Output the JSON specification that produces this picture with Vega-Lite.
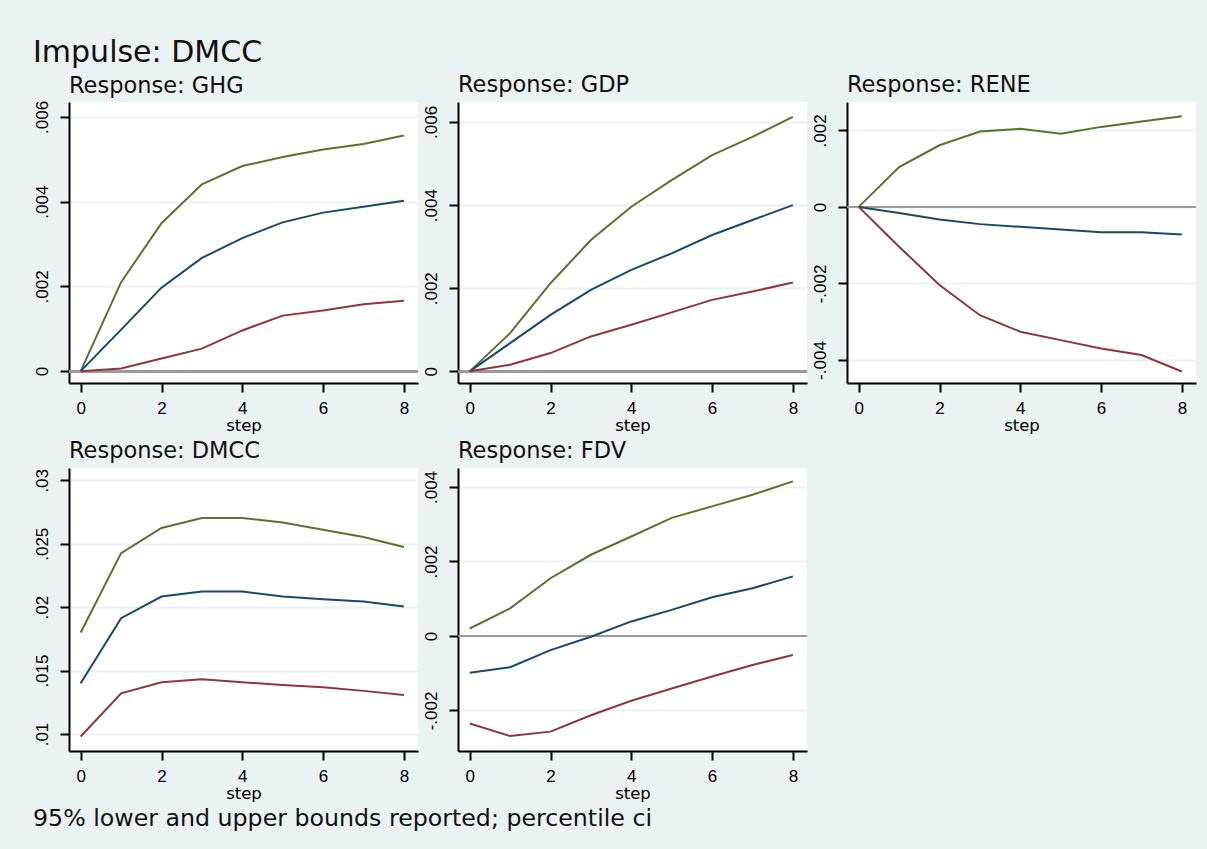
{
  "$schema": "https://vega.github.io/schema/vega-lite/v6.json",
  "background": "#EAF2F3",
  "padding": {"left": 33, "top": 37, "right": 11, "bottom": 22},
  "title": {"text": "95% lower and upper bounds reported; percentile ci", "orient": "bottom", "anchor": "start", "fontSize": 23.7, "offset": 5, "frame": "bounds"},
  "datasets": {
    "irf": [
      {"r":"GHG","k":"upper","s":0,"v":0},{"r":"GHG","k":"upper","s":1,"v":0.0021},{"r":"GHG","k":"upper","s":2,"v":0.00349},{"r":"GHG","k":"upper","s":3,"v":0.00441},{"r":"GHG","k":"upper","s":4,"v":0.00484},{"r":"GHG","k":"upper","s":5,"v":0.00505},{"r":"GHG","k":"upper","s":6,"v":0.00523},{"r":"GHG","k":"upper","s":7,"v":0.00536},{"r":"GHG","k":"upper","s":8,"v":0.00556},
      {"r":"GHG","k":"irf","s":0,"v":0},{"r":"GHG","k":"irf","s":1,"v":0.00098},{"r":"GHG","k":"irf","s":2,"v":0.00197},{"r":"GHG","k":"irf","s":3,"v":0.00267},{"r":"GHG","k":"irf","s":4,"v":0.00314},{"r":"GHG","k":"irf","s":5,"v":0.00351},{"r":"GHG","k":"irf","s":6,"v":0.00374},{"r":"GHG","k":"irf","s":7,"v":0.00388},{"r":"GHG","k":"irf","s":8,"v":0.00402},
      {"r":"GHG","k":"lower","s":0,"v":0},{"r":"GHG","k":"lower","s":1,"v":0.00006},{"r":"GHG","k":"lower","s":2,"v":0.0003},{"r":"GHG","k":"lower","s":3,"v":0.00053},{"r":"GHG","k":"lower","s":4,"v":0.00096},{"r":"GHG","k":"lower","s":5,"v":0.00131},{"r":"GHG","k":"lower","s":6,"v":0.00143},{"r":"GHG","k":"lower","s":7,"v":0.00158},{"r":"GHG","k":"lower","s":8,"v":0.00166},
      {"r":"GDP","k":"upper","s":0,"v":0},{"r":"GDP","k":"upper","s":1,"v":0.00092},{"r":"GDP","k":"upper","s":2,"v":0.00212},{"r":"GDP","k":"upper","s":3,"v":0.00316},{"r":"GDP","k":"upper","s":4,"v":0.00396},{"r":"GDP","k":"upper","s":5,"v":0.0046},{"r":"GDP","k":"upper","s":6,"v":0.0052},{"r":"GDP","k":"upper","s":7,"v":0.00564},{"r":"GDP","k":"upper","s":8,"v":0.00612},
      {"r":"GDP","k":"irf","s":0,"v":0},{"r":"GDP","k":"irf","s":1,"v":0.00068},{"r":"GDP","k":"irf","s":2,"v":0.00136},{"r":"GDP","k":"irf","s":3,"v":0.00196},{"r":"GDP","k":"irf","s":4,"v":0.00244},{"r":"GDP","k":"irf","s":5,"v":0.00284},{"r":"GDP","k":"irf","s":6,"v":0.00328},{"r":"GDP","k":"irf","s":7,"v":0.00364},{"r":"GDP","k":"irf","s":8,"v":0.004},
      {"r":"GDP","k":"lower","s":0,"v":0},{"r":"GDP","k":"lower","s":1,"v":0.00016},{"r":"GDP","k":"lower","s":2,"v":0.00044},{"r":"GDP","k":"lower","s":3,"v":0.00084},{"r":"GDP","k":"lower","s":4,"v":0.00112},{"r":"GDP","k":"lower","s":5,"v":0.00142},{"r":"GDP","k":"lower","s":6,"v":0.00172},{"r":"GDP","k":"lower","s":7,"v":0.00192},{"r":"GDP","k":"lower","s":8,"v":0.00214},
      {"r":"RENE","k":"upper","s":0,"v":0},{"r":"RENE","k":"upper","s":1,"v":0.00104},{"r":"RENE","k":"upper","s":2,"v":0.00161},{"r":"RENE","k":"upper","s":3,"v":0.00197},{"r":"RENE","k":"upper","s":4,"v":0.00204},{"r":"RENE","k":"upper","s":5,"v":0.00191},{"r":"RENE","k":"upper","s":6,"v":0.00209},{"r":"RENE","k":"upper","s":7,"v":0.00223},{"r":"RENE","k":"upper","s":8,"v":0.00237},
      {"r":"RENE","k":"irf","s":0,"v":0},{"r":"RENE","k":"irf","s":1,"v":-0.00016},{"r":"RENE","k":"irf","s":2,"v":-0.00033},{"r":"RENE","k":"irf","s":3,"v":-0.00045},{"r":"RENE","k":"irf","s":4,"v":-0.00052},{"r":"RENE","k":"irf","s":5,"v":-0.00059},{"r":"RENE","k":"irf","s":6,"v":-0.00066},{"r":"RENE","k":"irf","s":7,"v":-0.00066},{"r":"RENE","k":"irf","s":8,"v":-0.00072},
      {"r":"RENE","k":"lower","s":0,"v":0},{"r":"RENE","k":"lower","s":1,"v":-0.00104},{"r":"RENE","k":"lower","s":2,"v":-0.00204},{"r":"RENE","k":"lower","s":3,"v":-0.00283},{"r":"RENE","k":"lower","s":4,"v":-0.00326},{"r":"RENE","k":"lower","s":5,"v":-0.00348},{"r":"RENE","k":"lower","s":6,"v":-0.0037},{"r":"RENE","k":"lower","s":7,"v":-0.00387},{"r":"RENE","k":"lower","s":8,"v":-0.0043},
      {"r":"DMCC","k":"upper","s":0,"v":0.018},{"r":"DMCC","k":"upper","s":1,"v":0.02426},{"r":"DMCC","k":"upper","s":2,"v":0.02624},{"r":"DMCC","k":"upper","s":3,"v":0.02703},{"r":"DMCC","k":"upper","s":4,"v":0.02703},{"r":"DMCC","k":"upper","s":5,"v":0.02668},{"r":"DMCC","k":"upper","s":6,"v":0.0261},{"r":"DMCC","k":"upper","s":7,"v":0.02553},{"r":"DMCC","k":"upper","s":8,"v":0.02474},
      {"r":"DMCC","k":"irf","s":0,"v":0.014},{"r":"DMCC","k":"irf","s":1,"v":0.01913},{"r":"DMCC","k":"irf","s":2,"v":0.02084},{"r":"DMCC","k":"irf","s":3,"v":0.02124},{"r":"DMCC","k":"irf","s":4,"v":0.02124},{"r":"DMCC","k":"irf","s":5,"v":0.02084},{"r":"DMCC","k":"irf","s":6,"v":0.02063},{"r":"DMCC","k":"irf","s":7,"v":0.02045},{"r":"DMCC","k":"irf","s":8,"v":0.02005},
      {"r":"DMCC","k":"lower","s":0,"v":0.0098},{"r":"DMCC","k":"lower","s":1,"v":0.01321},{"r":"DMCC","k":"lower","s":2,"v":0.01408},{"r":"DMCC","k":"lower","s":3,"v":0.01432},{"r":"DMCC","k":"lower","s":4,"v":0.01408},{"r":"DMCC","k":"lower","s":5,"v":0.01387},{"r":"DMCC","k":"lower","s":6,"v":0.01368},{"r":"DMCC","k":"lower","s":7,"v":0.0134},{"r":"DMCC","k":"lower","s":8,"v":0.01308},
      {"r":"FDV","k":"upper","s":0,"v":0.0002},{"r":"FDV","k":"upper","s":1,"v":0.00074},{"r":"FDV","k":"upper","s":2,"v":0.00155},{"r":"FDV","k":"upper","s":3,"v":0.00218},{"r":"FDV","k":"upper","s":4,"v":0.00267},{"r":"FDV","k":"upper","s":5,"v":0.00317},{"r":"FDV","k":"upper","s":6,"v":0.00348},{"r":"FDV","k":"upper","s":7,"v":0.00379},{"r":"FDV","k":"upper","s":8,"v":0.00415},
      {"r":"FDV","k":"irf","s":0,"v":-0.00099},{"r":"FDV","k":"irf","s":1,"v":-0.00084},{"r":"FDV","k":"irf","s":2,"v":-0.00038},{"r":"FDV","k":"irf","s":3,"v":-0.00002},{"r":"FDV","k":"irf","s":4,"v":0.00039},{"r":"FDV","k":"irf","s":5,"v":0.0007},{"r":"FDV","k":"irf","s":6,"v":0.00104},{"r":"FDV","k":"irf","s":7,"v":0.00128},{"r":"FDV","k":"irf","s":8,"v":0.0016},
      {"r":"FDV","k":"lower","s":0,"v":-0.00235},{"r":"FDV","k":"lower","s":1,"v":-0.00269},{"r":"FDV","k":"lower","s":2,"v":-0.00257},{"r":"FDV","k":"lower","s":3,"v":-0.00213},{"r":"FDV","k":"lower","s":4,"v":-0.00174},{"r":"FDV","k":"lower","s":5,"v":-0.00141},{"r":"FDV","k":"lower","s":6,"v":-0.00109},{"r":"FDV","k":"lower","s":7,"v":-0.00078},{"r":"FDV","k":"lower","s":8,"v":-0.00051}
    ]
  },
  "vconcat": [
    {
      "title": {"text": "Impulse: DMCC", "anchor": "start", "fontSize": 30, "frame": "bounds", "offset": 6},
      "columns": 3,
      "bounds": "flush",
      "spacing": {"row": 85, "column": 40},
      "concat": [
        {
          "title": {"text": "Response: GHG", "offset": 2.3},
          "width": 349, "height": 281,
          "data": {"name": "irf"},
          "transform": [{"filter": "datum.r == 'GHG'"}],
          "layer": [
            {"mark": {"type": "rule", "color": "#9a9a9a", "strokeWidth": 2}, "encoding": {"y": {"datum": 0, "type": "quantitative", "title": null, "axis": {"values": [0, 0.002, 0.004, 0.006], "labelExpr": "replace(replace(format(datum.value, '.3~f'), '0.', '.'), '\u2212', '-')"}}}},
            {"mark": {"type": "line", "strokeWidth": 2},
             "encoding": {
               "x": {"field": "s", "type": "quantitative", "title": "step", "scale": {"domain": [-0.29, 8.35], "nice": false, "zero": false}, "axis": {"values": [0, 2, 4, 6, 8]}},
               "y": {"field": "v", "type": "quantitative", "title": null, "scale": {"domain": [-0.00028, 0.00635], "nice": false, "zero": false}, "axis": {"values": [0, 0.002, 0.004, 0.006], "labelExpr": "replace(replace(format(datum.value, '.3~f'), '0.', '.'), '\u2212', '-')"}},
               "color": {"field": "k", "type": "nominal", "scale": {"domain": ["upper", "irf", "lower"], "range": ["#55752f", "#1a476f", "#90353b"]}, "legend": null}
             }}
          ]
        },
        {
          "title": {"text": "Response: GDP"},
          "width": 349, "height": 281,
          "data": {"name": "irf"},
          "transform": [{"filter": "datum.r == 'GDP'"}],
          "layer": [
            {"mark": {"type": "rule", "color": "#9a9a9a", "strokeWidth": 2}, "encoding": {"y": {"datum": 0, "type": "quantitative", "title": null, "axis": {"values": [0, 0.002, 0.004, 0.006], "labelExpr": "replace(replace(format(datum.value, '.3~f'), '0.', '.'), '\u2212', '-')"}}}},
            {"mark": {"type": "line", "strokeWidth": 2},
             "encoding": {
               "x": {"field": "s", "type": "quantitative", "title": "step", "scale": {"domain": [-0.29, 8.35], "nice": false, "zero": false}, "axis": {"values": [0, 2, 4, 6, 8]}},
               "y": {"field": "v", "type": "quantitative", "title": null, "scale": {"domain": [-0.00028, 0.00648], "nice": false, "zero": false}, "axis": {"values": [0, 0.002, 0.004, 0.006], "labelExpr": "replace(replace(format(datum.value, '.3~f'), '0.', '.'), '\u2212', '-')"}},
               "color": {"field": "k", "type": "nominal", "scale": {"domain": ["upper", "irf", "lower"], "range": ["#55752f", "#1a476f", "#90353b"]}, "legend": null}
             }}
          ]
        },
        {
          "title": {"text": "Response: RENE"},
          "width": 349, "height": 281,
          "data": {"name": "irf"},
          "transform": [{"filter": "datum.r == 'RENE'"}],
          "layer": [
            {"mark": {"type": "rule", "color": "#9a9a9a", "strokeWidth": 2}, "encoding": {"y": {"datum": 0, "type": "quantitative", "title": null, "axis": {"values": [-0.004, -0.002, 0, 0.002], "labelExpr": "replace(replace(format(datum.value, '.3~f'), '0.', '.'), '\u2212', '-')"}}}},
            {"mark": {"type": "line", "strokeWidth": 2},
             "encoding": {
               "x": {"field": "s", "type": "quantitative", "title": "step", "scale": {"domain": [-0.29, 8.35], "nice": false, "zero": false}, "axis": {"values": [0, 2, 4, 6, 8]}},
               "y": {"field": "v", "type": "quantitative", "title": null, "scale": {"domain": [-0.0046, 0.00274], "nice": false, "zero": false}, "axis": {"values": [-0.004, -0.002, 0, 0.002], "labelExpr": "replace(replace(format(datum.value, '.3~f'), '0.', '.'), '\u2212', '-')"}},
               "color": {"field": "k", "type": "nominal", "scale": {"domain": ["upper", "irf", "lower"], "range": ["#55752f", "#1a476f", "#90353b"]}, "legend": null}
             }}
          ]
        },
        {
          "title": {"text": "Response: DMCC"},
          "width": 349, "height": 283,
          "data": {"name": "irf"},
          "transform": [{"filter": "datum.r == 'DMCC'"}],
          "layer": [
            {"mark": {"type": "line", "strokeWidth": 2},
             "encoding": {
               "x": {"field": "s", "type": "quantitative", "title": "step", "scale": {"domain": [-0.29, 8.35], "nice": false, "zero": false}, "axis": {"values": [0, 2, 4, 6, 8]}},
               "y": {"field": "v", "type": "quantitative", "title": null, "scale": {"domain": [0.00866, 0.03097], "nice": false, "zero": false}, "axis": {"values": [0.01, 0.015, 0.02, 0.025, 0.03], "labelExpr": "replace(replace(format(datum.value, '.3~f'), '0.', '.'), '\u2212', '-')"}},
               "color": {"field": "k", "type": "nominal", "scale": {"domain": ["upper", "irf", "lower"], "range": ["#55752f", "#1a476f", "#90353b"]}, "legend": null}
             }}
          ]
        },
        {
          "title": {"text": "Response: FDV"},
          "width": 349, "height": 283,
          "data": {"name": "irf"},
          "transform": [{"filter": "datum.r == 'FDV'"}],
          "layer": [
            {"mark": {"type": "rule", "color": "#9a9a9a", "strokeWidth": 2}, "encoding": {"y": {"datum": 0, "type": "quantitative", "title": null, "axis": {"values": [-0.002, 0, 0.002, 0.004], "labelExpr": "replace(replace(format(datum.value, '.3~f'), '0.', '.'), '\u2212', '-')"}}}},
            {"mark": {"type": "line", "strokeWidth": 2},
             "encoding": {
               "x": {"field": "s", "type": "quantitative", "title": "step", "scale": {"domain": [-0.29, 8.35], "nice": false, "zero": false}, "axis": {"values": [0, 2, 4, 6, 8]}},
               "y": {"field": "v", "type": "quantitative", "title": null, "scale": {"domain": [-0.00309, 0.00451], "nice": false, "zero": false}, "axis": {"values": [-0.002, 0, 0.002, 0.004], "labelExpr": "replace(replace(format(datum.value, '.3~f'), '0.', '.'), '\u2212', '-')"}},
               "color": {"field": "k", "type": "nominal", "scale": {"domain": ["upper", "irf", "lower"], "range": ["#55752f", "#1a476f", "#90353b"]}, "legend": null}
             }}
          ]
        }
      ]
    }
  ],
  "config": {
    "font": "DejaVu Sans",
    "view": {"fill": "white", "stroke": null},
    "title": {"font": "DejaVu Sans", "fontWeight": "normal", "color": "#111111", "fontSize": 22.5, "anchor": "start", "frame": "group", "offset": 6},
    "axis": {
      "domainColor": "black", "domainWidth": 2, "tickColor": "black", "tickWidth": 2, "tickSize": 9,
      "labelFont": "Liberation Sans", "labelFontSize": 17, "labelColor": "black",
      "titleFont": "DejaVu Sans", "titleFontSize": 16.5, "titleFontWeight": "normal", "titleColor": "black",
      "gridColor": "#EAF2F3", "gridWidth": 2
    },
    "axisX": {"grid": false, "labelPadding": 8, "titlePadding": 1},
    "axisY": {"grid": true, "labelAngle": -90, "labelPadding": 9, "labelFontSize": 17}
  }
}
